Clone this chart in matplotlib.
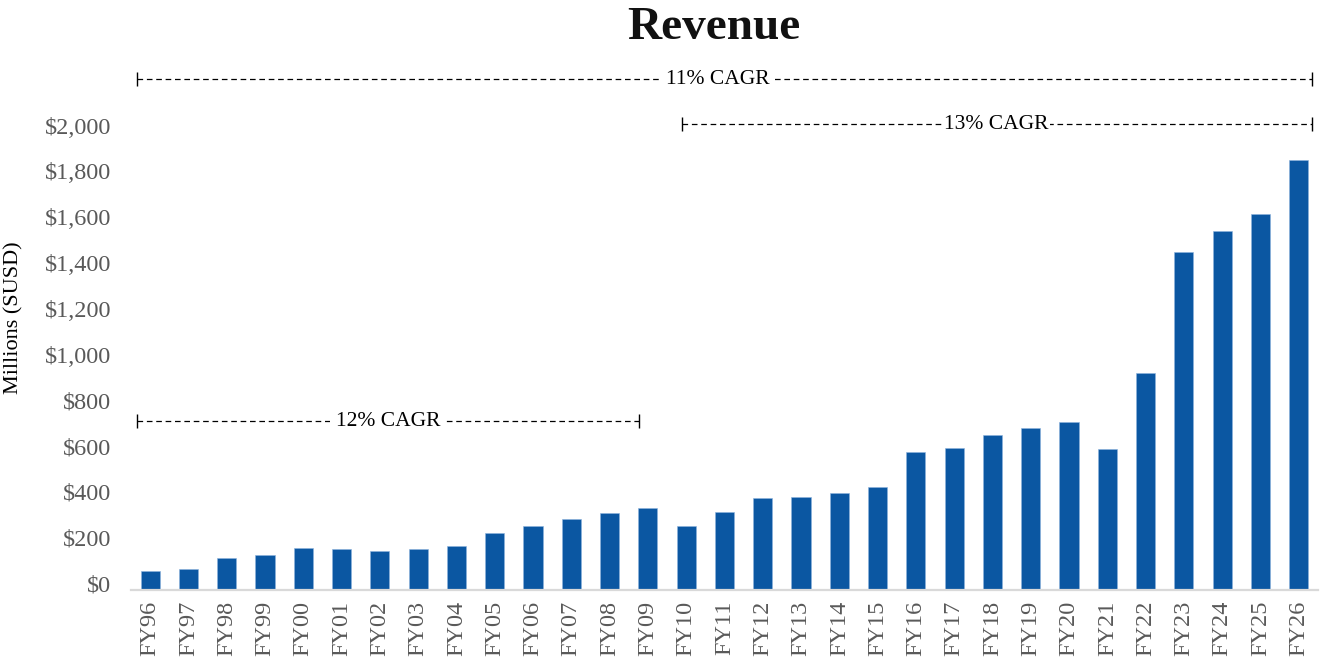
import matplotlib
matplotlib.use('Agg')
import matplotlib.pyplot as plt
from matplotlib.transforms import ScaledTranslation

plt.rcParams['font.family'] = ['Liberation Serif', 'DejaVu Serif']

years = ['FY96', 'FY97', 'FY98', 'FY99', 'FY00', 'FY01', 'FY02', 'FY03', 'FY04', 'FY05',
         'FY06', 'FY07', 'FY08', 'FY09', 'FY10', 'FY11', 'FY12', 'FY13', 'FY14', 'FY15',
         'FY16', 'FY17', 'FY18', 'FY19', 'FY20', 'FY21', 'FY22', 'FY23', 'FY24', 'FY25', 'FY26']
revenue = [85, 96, 140, 154, 184, 181, 174, 180, 193, 249,
           280, 312, 338, 362, 280, 343, 405, 410, 426, 452,
           605, 621, 681, 710, 734, 617, 950, 1477, 1569, 1644, 1880]

# CAGR brackets: (label, first year, last year, height in $M)
cagr_labels = ['11% CAGR', '13% CAGR', '12% CAGR']
cagr_start = ['FY96', 'FY10', 'FY96']
cagr_end = ['FY26', 'FY26', 'FY09']
cagr_level = [2232, 2037, 740]

bar_color = '#0B57A2'
tick_color = '#595959'

fig = plt.figure(figsize=(13.2, 6.58), dpi=100)
ax = fig.add_axes([0.0992, 0.1026, 0.8992, 0.783])

x = list(range(len(years)))
ax.bar(x, revenue, width=0.5, color=bar_color, edgecolor='#8DB3DD', linewidth=0.4)

ax.set_xlim(-0.5, len(years) - 0.5)
ax.set_ylim(0, 2250)
ax.set_yticks(range(0, 2001, 200))
ax.set_yticklabels([f'${v:,}' for v in range(0, 2001, 200)])
ax.set_xticks(x)
ax.set_xticklabels(years, rotation=90)
ax.tick_params(axis='y', length=0, pad=14, labelsize=17.5, labelcolor=tick_color)
ax.tick_params(axis='x', length=0, pad=7.5, labelsize=17.5, labelcolor=tick_color)
# excel-style label placement sits a few px above the value
for lab in ax.get_yticklabels():
    lab.set_transform(lab.get_transform() + ScaledTranslation(0, 7 / 100, fig.dpi_scale_trans))

for s in ['top', 'right', 'left']:
    ax.spines[s].set_visible(False)
ax.spines['bottom'].set_color('#D9D9D9')
ax.spines['bottom'].set_linewidth(1.6)

# CAGR brackets
text_x = {'11% CAGR': 14.83}
text_pad = {'13% CAGR': 0.05}
for lab, s, e, lvl in zip(cagr_labels, cagr_start, cagr_end, cagr_level):
    x0 = years.index(s) - (0.34 if s == 'FY96' else 0.12)
    x1 = years.index(e) + (0.34 if e == 'FY26' else -0.23)
    ax.plot([x0, x1], [lvl, lvl], color='black', lw=0.9, linestyle=(0, (4.5, 3)), clip_on=False)
    ax.plot([x0, x1], [lvl, lvl], linestyle='none', marker='|', markersize=10,
            markeredgewidth=1.0, color='black', clip_on=False)
    tx = text_x.get(lab, (x0 + x1) / 2)
    pad = text_pad.get(lab, 0.25)
    ax.text(tx, lvl, lab, ha='center', va='center', fontsize=15.5, color='black',
            bbox=dict(boxstyle=f'square,pad={pad}', facecolor='white', edgecolor='none'),
            clip_on=False)

fig.text(0.5407, 1 - 39 / 658, 'Revenue', ha='center', va='baseline',
         fontsize=34, fontweight='bold', color='#111111')
fig.text(14 / 1320, 1 - 318 / 658, 'Millions (SUSD)', rotation=90, ha='center', va='center',
         fontsize=16, color='black')

fig.savefig('out.png', dpi=100)
